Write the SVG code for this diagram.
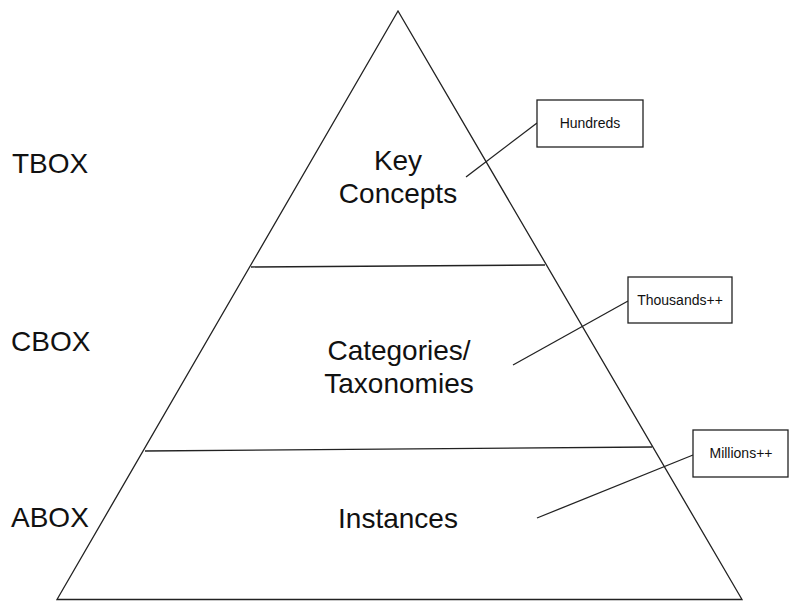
<svg xmlns="http://www.w3.org/2000/svg" width="790" height="601" viewBox="0 0 790 601">
  <style>
    .ln { fill: none; stroke: #222; stroke-width: 1.3; }
    .big { font-family: "Liberation Sans", Arial, sans-serif; font-size: 28px; fill: #111; }
    .mid { text-anchor: middle; }
    .small { font-family: "Liberation Sans", Arial, sans-serif; font-size: 14px; fill: #111; text-anchor: middle; }
    .box { fill: #fff; stroke: #222; stroke-width: 1.3; }
  </style>
  <rect width="790" height="601" fill="#fff"/>

  <!-- pyramid outline and tier dividers -->
  <g id="pyramid">
    <path class="ln" d="M57,599.5 L398,11 L742,599.5 Z"/>
    <line class="ln" x1="251" y1="267" x2="545" y2="265"/>
    <line class="ln" x1="145" y1="451" x2="652" y2="447"/>
  </g>

  <!-- tier labels inside the pyramid -->
  <g id="tier-key-concepts">
    <text class="big mid" x="398" y="170">Key</text>
    <text class="big mid" x="398" y="203">Concepts</text>
  </g>
  <g id="tier-categories">
    <text class="big mid" x="399" y="360">Categories/</text>
    <text class="big mid" x="399" y="393">Taxonomies</text>
  </g>
  <g id="tier-instances">
    <text class="big mid" x="398" y="528">Instances</text>
  </g>

  <!-- side labels -->
  <g id="label-tbox"><text class="big" x="12" y="173">TBOX</text></g>
  <g id="label-cbox"><text class="big" x="11" y="351">CBOX</text></g>
  <g id="label-abox"><text class="big" x="11" y="527">ABOX</text></g>

  <!-- callout connectors -->
  <g id="connectors">
    <line class="ln" x1="537" y1="123" x2="466" y2="177"/>
    <line class="ln" x1="628" y1="301" x2="513" y2="365"/>
    <line class="ln" x1="693" y1="455" x2="537" y2="518"/>
  </g>

  <!-- callout boxes -->
  <g id="note-hundreds">
    <rect class="box" x="537" y="100" width="106" height="47"/>
    <text class="small" x="590" y="128">Hundreds</text>
  </g>
  <g id="note-thousands">
    <rect class="box" x="628" y="277" width="104" height="46"/>
    <text class="small" x="680" y="305">Thousands++</text>
  </g>
  <g id="note-millions">
    <rect class="box" x="693" y="430" width="95" height="47"/>
    <text class="small" x="741" y="458">Millions++</text>
  </g>
</svg>
